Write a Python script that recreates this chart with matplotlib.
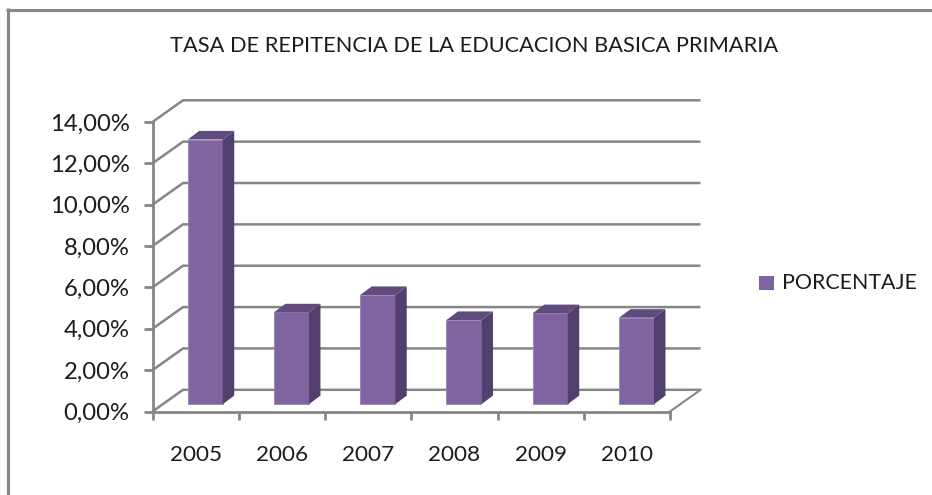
import matplotlib
matplotlib.use('Agg')
import matplotlib.pyplot as plt
from matplotlib.patches import Polygon, Rectangle
from matplotlib.lines import Line2D

plt.rcParams['font.family'] = ['Lato', 'DejaVu Sans']

years  = ['2005', '2006', '2007', '2008', '2009', '2010']
values = [12.80, 4.44, 5.28, 4.07, 4.40, 4.18]
yticks = [0, 2, 4, 6, 8, 10, 12, 14]
ylabels = ['0,00%', '2,00%', '4,00%', '6,00%', '8,00%', '10,00%', '12,00%', '14,00%']
title  = 'TASA DE REPITENCIA DE LA EDUCACION BASICA PRIMARIA'
legend_label = 'PORCENTAJE'

W, H = 932, 495
purple = '#8064A2'
purple_top = '#614B7C'
purple_side = '#533F6E'
grey = '#868686'
ink = '#1c1c1c'

fig = plt.figure(figsize=(W / 100, H / 100), dpi=100)

# front plane of the fake 3d box, pixels from the top left
x0, x1 = 152.5, 670.0
y0, y14 = 411.5, 122.0
ax = fig.add_axes([x0 / W, 1 - y0 / H, (x1 - x0) / W, (y0 - y14) / H])
ax.set_xlim(0, len(years))
ax.set_ylim(0, 14)
ax.patch.set_alpha(0)
for s in ['top', 'right']:
    ax.spines[s].set_visible(False)
for s in ['left', 'bottom']:
    ax.spines[s].set_color(grey)
    ax.spines[s].set_linewidth(2)
    ax.spines[s].set_zorder(1)

px_x = len(years) / (x1 - x0)
px_y = 14 / (y0 - y14)

# depth of the box and of the bars
dx, dy = 30.5 * px_x, 21.7 * px_y
bx, by = 11.5 * px_x, 8.6 * px_y
base = 7.3 * px_y
bar_w = 35 * px_x

# walls
for t in yticks:
    ax.plot([0, dx, len(years) + dx], [t, t + dy, t + dy], color=grey, lw=1.8,
            clip_on=False, zorder=1, solid_capstyle='butt')
ax.plot([len(years), len(years) + dx], [0, dy], color=grey, lw=1.5, clip_on=False, zorder=1)

# bars
for i, v in enumerate(values):
    left = i + 0.5 - bar_w / 2 + 9.6 * px_x
    right = left + bar_w
    top = base + v
    ax.bar(left, v, width=bar_w, bottom=base, align='edge', color=purple,
           edgecolor='#9A82B8', linewidth=0.6, zorder=3)
    ax.add_patch(Polygon([(right, base), (right + bx, base + by), (right + bx, top + by), (right, top)],
                         closed=True, facecolor=purple_side, edgecolor='none', zorder=3, clip_on=False))
    ax.add_patch(Polygon([(left, top), (left + bx, top + by), (right + bx, top + by), (right, top)],
                         closed=True, facecolor=purple_top, edgecolor='none', zorder=3, clip_on=False))

ax.set_yticks(yticks)
ax.set_yticklabels(ylabels, fontsize=17.2, color=ink)
ax.set_xticks(range(len(years) + 1))
ax.set_xticklabels([])
ax.tick_params(axis='y', length=6.5, width=2, color=grey, pad=10)
ax.tick_params(axis='x', length=6, width=2, color=grey)
for i, y in enumerate(years):
    ax.text(i + 0.5, -2.1, y, ha='center', va='center', fontsize=16.2, color=ink)

fig.text(474 / W, 1 - 46 / H, title, ha='center', va='center', fontsize=15.7, color=ink)

# legend
fig.patches.append(Rectangle((759 / W, 1 - 290 / H), 15 / W, 14.5 / H, transform=fig.transFigure,
                             facecolor=purple, edgecolor='none'))
fig.text(782 / W, 1 - 283 / H, legend_label, ha='left', va='center', fontsize=15.4, color=ink)

# outer border, only top and left survive in the picture
fig.add_artist(Line2D([7.5 / W, 7.5 / W], [0, 1 - 8 / H], color=grey, lw=2.2, solid_capstyle='butt'))
fig.add_artist(Line2D([6 / W, 1], [1 - 9.5 / H, 1 - 9.5 / H], color=grey, lw=2.2, solid_capstyle='butt'))

fig.savefig('out.png', dpi=100)
